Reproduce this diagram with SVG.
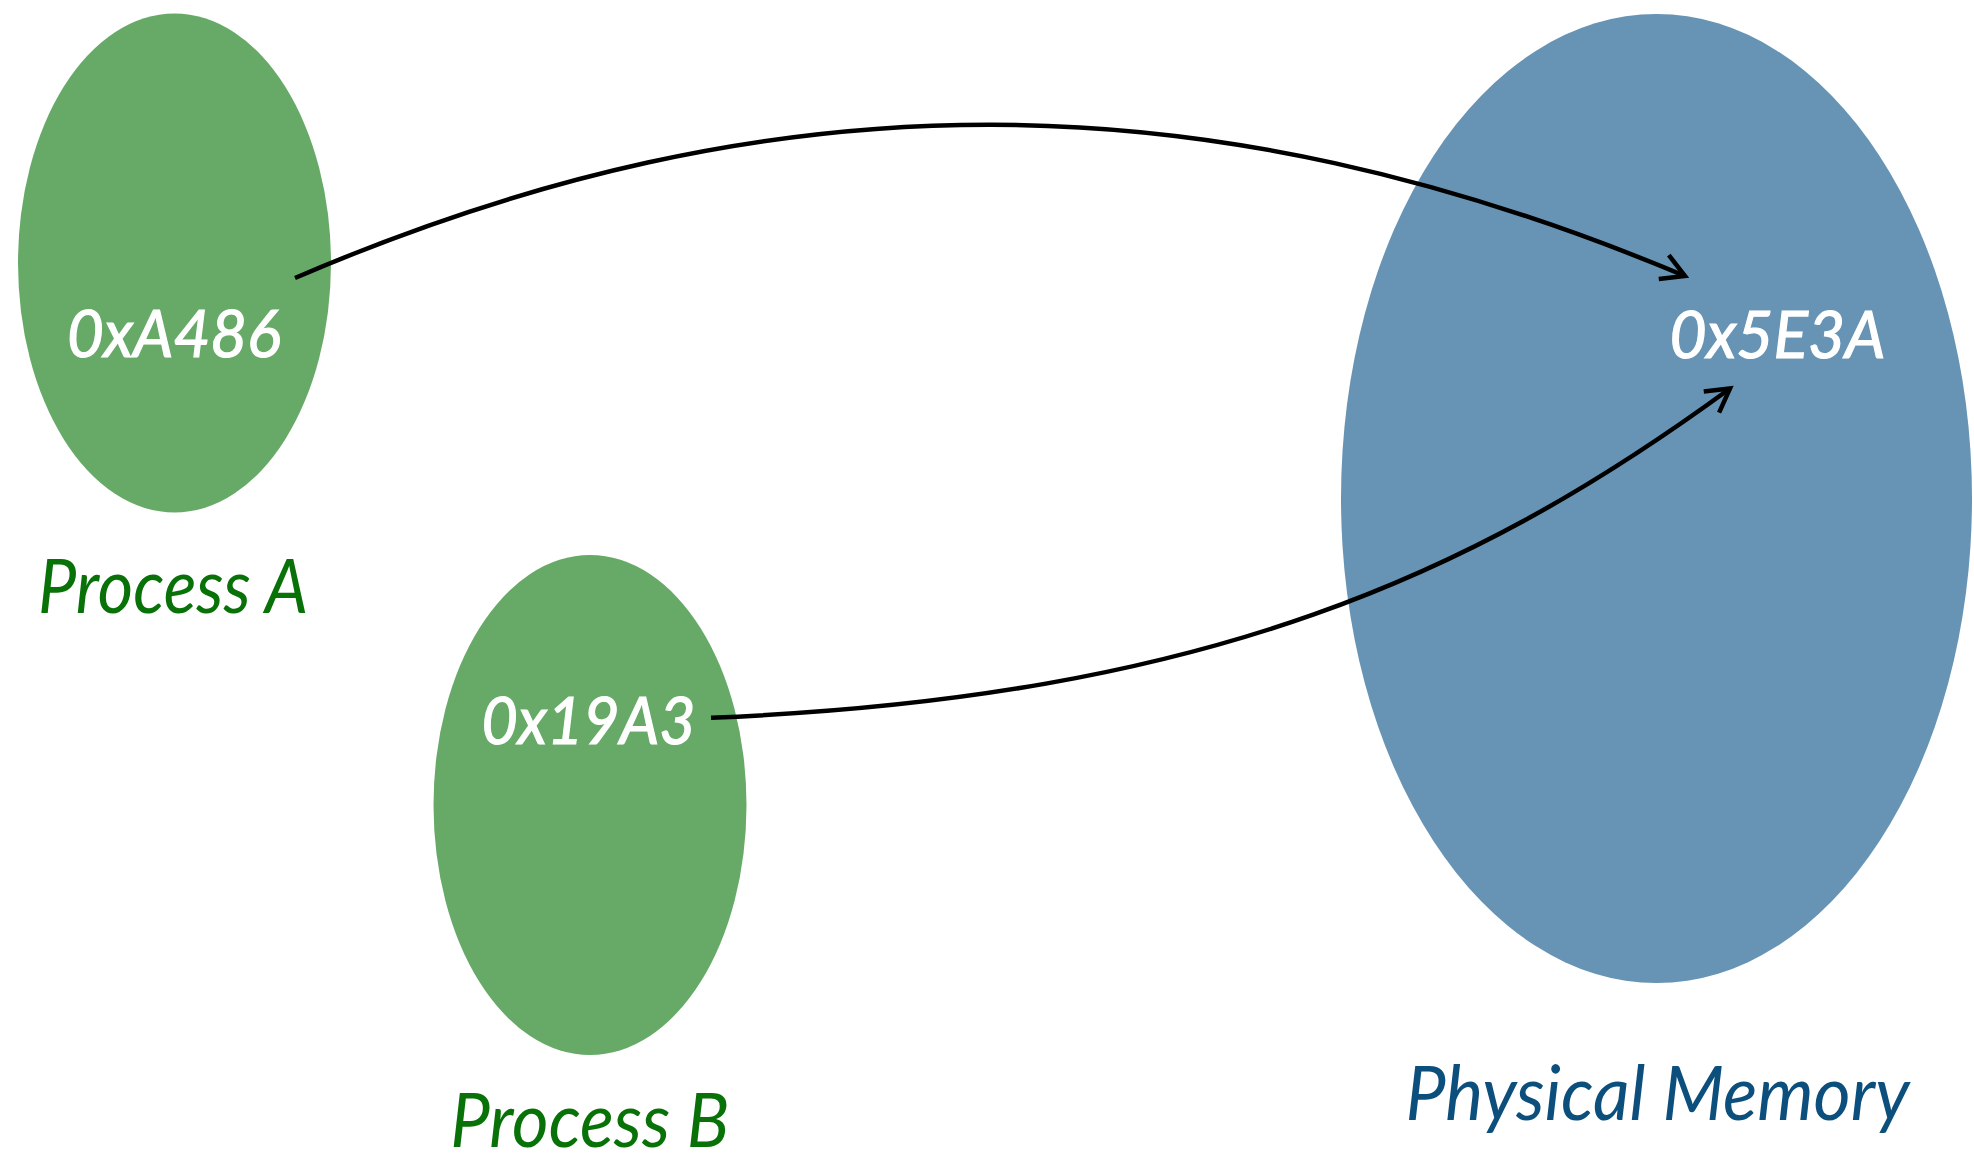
<svg xmlns="http://www.w3.org/2000/svg" width="1974" height="1162" viewBox="0 0 1974 1162">
  <style>
    .proc { fill: #67aa68; }
    .phys { fill: #6794b4; }
    .addr { font-family: Lato, "Open Sans", "Liberation Sans", sans-serif; font-style: italic; font-size: 66px; fill: #ffffff; stroke: #ffffff; stroke-width: 1.2; text-anchor: middle; }
    .label { font-family: Lato, "Open Sans", "Liberation Sans", sans-serif; font-style: italic; font-size: 75px; text-anchor: middle; }
    .label-proc { fill: #087208; }
    .label-phys { fill: #0c4f7d; }
    .link { fill: none; stroke: #000000; stroke-width: 4.5; marker-end: url(#open-arrow); }
  </style>
  <defs>
    <marker id="open-arrow" markerUnits="userSpaceOnUse" markerWidth="40" markerHeight="40" refX="0" refY="0" orient="auto" overflow="visible">
      <path d="M-23,-13 L0,0 L-23,13" fill="none" stroke="#000000" stroke-width="4.5" stroke-linejoin="miter"/>
    </marker>
  </defs>
  <rect width="1974" height="1162" fill="#ffffff"/>

  <!-- Physical memory -->
  <g id="physical-memory">
    <ellipse class="phys" cx="1656.5" cy="498.5" rx="315.5" ry="484.5"/>
    <text class="addr" x="1777.5" y="357.5" textLength="216" lengthAdjust="spacingAndGlyphs">0x5E3A</text>
    <text class="label label-phys" x="1657.5" y="1119.5" textLength="504" lengthAdjust="spacingAndGlyphs">Physical Memory</text>
  </g>

  <!-- Process A -->
  <g id="process-a">
    <ellipse class="proc" cx="174.5" cy="263" rx="156.5" ry="249.5"/>
    <text class="addr" x="174" y="357" textLength="214" lengthAdjust="spacingAndGlyphs">0xA486</text>
    <text class="label label-proc" x="173" y="613" textLength="270" lengthAdjust="spacingAndGlyphs">Process A</text>
  </g>

  <!-- Process B -->
  <g id="process-b">
    <ellipse class="proc" cx="590" cy="805" rx="156.5" ry="250"/>
    <text class="addr" x="588.6" y="744" textLength="214" lengthAdjust="spacingAndGlyphs">0x19A3</text>
    <text class="label label-proc" x="589.7" y="1147" textLength="279" lengthAdjust="spacingAndGlyphs">Process B</text>
  </g>

  <!-- Address translation links -->
  <g id="connectors">
    <path class="link" d="M295,278 C775,71.6 1209,76.4 1685,276"/>
    <path class="link" d="M711,717.7 C1211,697.7 1479,572 1730,388.5"/>
  </g>
</svg>
